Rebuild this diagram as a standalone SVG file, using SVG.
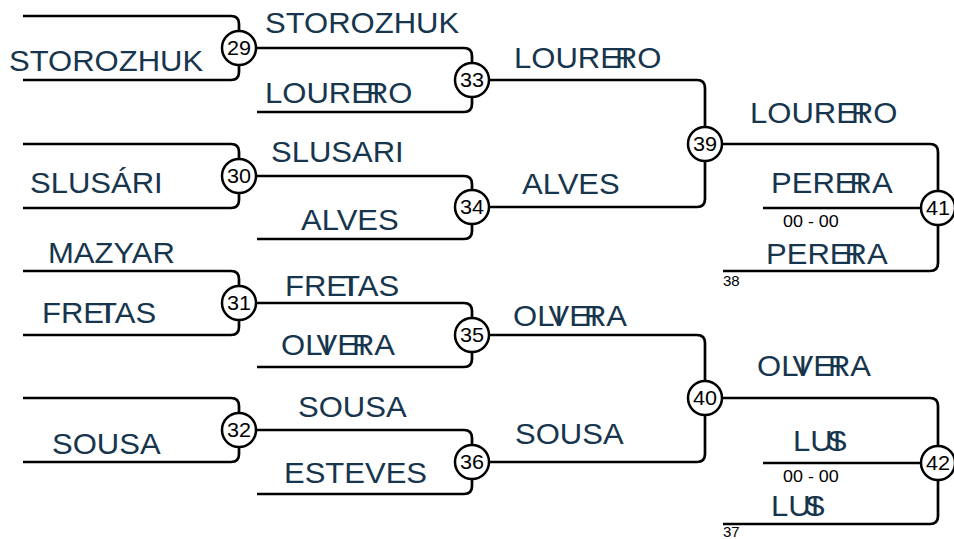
<svg xmlns="http://www.w3.org/2000/svg" width="954" height="539" viewBox="0 0 954 539">
<style>
.t{font-family:"Liberation Sans",Arial,sans-serif;font-size:29px;fill:#17364e}
.s{font-family:"Liberation Sans",Arial,sans-serif;font-size:16px;fill:#000}
.r{font-family:"Liberation Sans",Arial,sans-serif;font-size:15px;fill:#000}
.n{font-family:"Liberation Sans",Arial,sans-serif;font-size:20px;fill:#000;text-anchor:middle}
.c{fill:#fff;stroke:#000;stroke-width:2.5}
.l{fill:none;stroke:#000;stroke-width:2.7}
</style>
<rect width="954" height="539" fill="#fff"/>
<g id="connectors" class="l">
<path d="M23,16H231Q239,16 239,24V48M23,80H231Q239,80 239,72V48"/>
<path d="M23,144H231Q239,144 239,152V176M23,208H231Q239,208 239,200V176"/>
<path d="M23,271H231Q239,271 239,279V303M23,335H231Q239,335 239,327V303"/>
<path d="M23,398H231Q239,398 239,406V430M23,462H231Q239,462 239,454V430"/>
<path d="M239,48H464Q472,48 472,56V80M257,112H464Q472,112 472,104V80"/>
<path d="M239,176H464Q472,176 472,184V207M257,239H464Q472,239 472,231V207"/>
<path d="M239,303H464Q472,303 472,311V335M257,367H464Q472,367 472,359V335"/>
<path d="M239,430H464Q472,430 472,438V462M257,494H464Q472,494 472,486V462"/>
<path d="M472,80H697Q705,80 705,88V144M472,207H697Q705,207 705,199V144"/>
<path d="M472,335H697Q705,335 705,343V398M472,462H697Q705,462 705,454V398"/>
<path d="M705,144H930Q938,144 938,152V208M763,208H938M723,271H930Q938,271 938,263V208"/>
<path d="M705,398H930Q938,398 938,406V463M763,463H938M723,524H930Q938,524 938,516V463"/>
</g>
<g id="m29"><circle class="c" cx="239" cy="48" r="17"/><text class="n" transform="translate(239,55) scale(1.08,1)">29</text>
<text class="t" transform="translate(9,71) scale(1.07,1)">STOROZHUK</text></g>
<g id="m30"><circle class="c" cx="239" cy="176" r="17"/><text class="n" transform="translate(239,183) scale(1.08,1)">30</text>
<text class="t" transform="translate(30,193) scale(1.07,1)">SLUSÁRI</text></g>
<g id="m31"><circle class="c" cx="239" cy="303" r="17"/><text class="n" transform="translate(239,310) scale(1.08,1)">31</text>
<text class="t" transform="translate(48,263) scale(1.07,1)">MAZYAR</text>
<text class="t" transform="translate(42,323) scale(1.07,1)" dx="0 0 0 0 -13.6">FREITAS</text></g>
<g id="m32"><circle class="c" cx="239" cy="430" r="17"/><text class="n" transform="translate(239,437) scale(1.08,1)">32</text>
<text class="t" transform="translate(52,454) scale(1.07,1)">SOUSA</text></g>
<g id="m33"><circle class="c" cx="472" cy="80" r="17"/><text class="n" transform="translate(472,87) scale(1.08,1)">33</text>
<text class="t" transform="translate(265,33) scale(1.07,1)">STOROZHUK</text>
<text class="t" transform="translate(265,103) scale(1.07,1)" dx="0 0 0 0 0 0 -13.6">LOUREIRO</text></g>
<g id="m34"><circle class="c" cx="472" cy="207" r="17"/><text class="n" transform="translate(472,214) scale(1.08,1)">34</text>
<text class="t" transform="translate(271,162) scale(1.07,1)">SLUSARI</text>
<text class="t" transform="translate(301,230) scale(1.07,1)">ALVES</text></g>
<g id="m35"><circle class="c" cx="472" cy="335" r="17"/><text class="n" transform="translate(472,342) scale(1.08,1)">35</text>
<text class="t" transform="translate(285,296) scale(1.07,1)" dx="0 0 0 0 -13.6">FREITAS</text>
<text class="t" transform="translate(281,355) scale(1.07,1)" dx="0 0 0 -13.6 0 0 -13.6">OLIVEIRA</text></g>
<g id="m36"><circle class="c" cx="472" cy="462" r="17"/><text class="n" transform="translate(472,469) scale(1.08,1)">36</text>
<text class="t" transform="translate(298,417) scale(1.07,1)">SOUSA</text>
<text class="t" transform="translate(284,483) scale(1.07,1)">ESTEVES</text></g>
<g id="m39"><circle class="c" cx="705" cy="144" r="17"/><text class="n" transform="translate(705,151) scale(1.08,1)">39</text>
<text class="t" transform="translate(514,68) scale(1.07,1)" dx="0 0 0 0 0 0 -13.6">LOUREIRO</text>
<text class="t" transform="translate(522,194) scale(1.07,1)">ALVES</text></g>
<g id="m40"><circle class="c" cx="705" cy="398" r="17"/><text class="n" transform="translate(705,405) scale(1.08,1)">40</text>
<text class="t" transform="translate(513,326) scale(1.07,1)" dx="0 0 0 -13.6 0 0 -13.6">OLIVEIRA</text>
<text class="t" transform="translate(515,444) scale(1.07,1)">SOUSA</text></g>
<g id="m41"><circle class="c" cx="938" cy="208" r="17"/><text class="n" transform="translate(938,215) scale(1.08,1)">41</text>
<text class="t" transform="translate(750,123) scale(1.07,1)" dx="0 0 0 0 0 0 -13.6">LOUREIRO</text>
<text class="t" transform="translate(771,193) scale(1.07,1)" dx="0 0 0 0 0 -13.6">PEREIRA</text>
<text class="s" transform="translate(783,227) scale(1.12,1)">00 - 00</text>
<text class="t" transform="translate(766,264) scale(1.07,1)" dx="0 0 0 0 0 -13.6">PEREIRA</text>
<text class="r" x="723" y="286">38</text></g>
<g id="m42"><circle class="c" cx="938" cy="463" r="17"/><text class="n" transform="translate(938,470) scale(1.08,1)">42</text>
<text class="t" transform="translate(757,376) scale(1.07,1)" dx="0 0 0 -13.6 0 0 -13.6">OLIVEIRA</text>
<text class="t" transform="translate(793,451) scale(1.07,1)" dx="0 0 0 -13.6">LUIS</text>
<text class="s" transform="translate(783,482) scale(1.12,1)">00 - 00</text>
<text class="t" transform="translate(771,516) scale(1.07,1)" dx="0 0 0 -13.6">LUIS</text>
<text class="r" x="723" y="537">37</text></g>
</svg>
